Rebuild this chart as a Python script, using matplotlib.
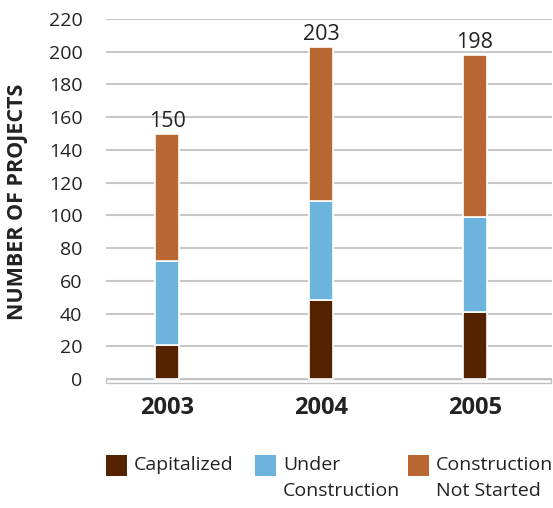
import matplotlib
matplotlib.use("Agg")
import matplotlib.pyplot as plt
from matplotlib.patches import Rectangle
import matplotlib.transforms as mtransforms

plt.rcParams['font.family'] = ['Open Sans', 'DejaVu Sans']

years = ["2003", "2004", "2005"]
capitalized = [21, 48, 41]
under_construction = [51, 61, 58]
not_started = [78, 94, 99]
totals = [150, 203, 198]
y_ticks = [0, 20, 40, 60, 80, 100, 120, 140, 160, 180, 200, 220]

series_labels = ["Capitalized", "Under\nConstruction", "Construction\nNot Started"]
colors = ["#552200", "#6cb4de", "#b86632"]

W, H = 553, 508
fig = plt.figure(figsize=(W / 100, H / 100), dpi=100)
ax = fig.add_axes([106 / W, (H - 383.1) / H, 446 / W, 364.1 / H])

x = list(range(len(years)))
width = 0.156
bottoms = [0] * len(years)
for vals, col in zip([capitalized, under_construction, not_started], colors):
    ax.bar(x, vals, width=width, bottom=bottoms, color=col,
           edgecolor="white", linewidth=1.2, zorder=3)
    bottoms = [b + v for b, v in zip(bottoms, vals)]

for xi, t in zip(x, totals):
    ax.text(xi, t + 1.0, str(t), ha="center", va="bottom",
            fontsize=15.5, color="#222222", zorder=4)

ax.set_xlim(-0.396, 2.5)
ax.set_ylim(-2.5, 220)
ax.set_yticks(y_ticks)
ax.yaxis.grid(True, color="#c8c8c8", linewidth=1.5, zorder=0)
ax.set_axisbelow(True)
for s in ax.spines.values():
    s.set_visible(False)

# hollow baseline bar under the zero line
trans = mtransforms.blended_transform_factory(ax.transAxes, ax.transData)
ax.add_patch(Rectangle((0, -2.45), 0.998, 2.45, transform=trans,
                       facecolor="white", edgecolor="#c0c0c0",
                       linewidth=1.0, zorder=2, clip_on=False))

ax.tick_params(axis="y", length=0, pad=17, labelsize=14, labelcolor="#222222")
ax.tick_params(axis="x", length=0, pad=9)
ax.set_xticks(x)
ax.set_xticklabels(years, fontsize=17, fontweight="bold", color="#222222")

fig.text(18 / W, 1 - 202 / H, "NUMBER OF PROJECTS", rotation=90,
         ha="center", va="center", fontsize=15.5, fontweight="bold",
         color="#222222")

# legend
legend_x = [106, 255, 408]
for lx, col, lab in zip(legend_x, colors, series_labels):
    fig.patches.append(Rectangle((lx / W, 1 - 476 / H), 21 / W, 21 / H,
                                 transform=fig.transFigure,
                                 facecolor=col, edgecolor="none"))
    fig.text((lx + 28) / W, 1 - 456 / H, lab, ha="left", va="top",
             fontsize=14, color="#222222", linespacing=1.6)

fig.savefig("out.png", dpi=100)
